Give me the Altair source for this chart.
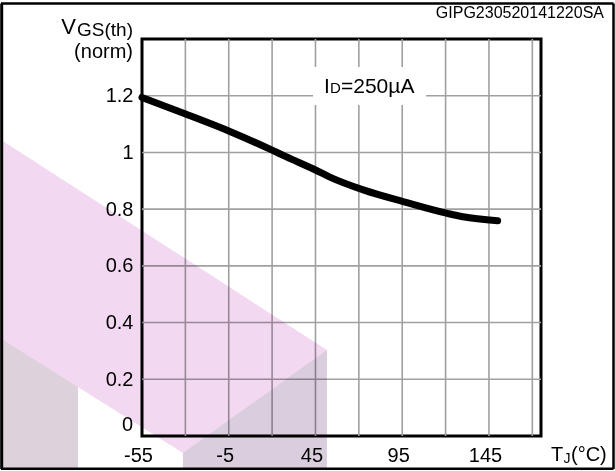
import altair as alt
import pandas as pd

# ---- data ----
temps = [-55, -31, -4, 20, 28, 45, 53, 73, 96, 121, 130, 150]
vth_norm = [1.194, 1.138, 1.073, 1.008, 0.985, 0.938, 0.914, 0.867, 0.826, 0.785, 0.773, 0.759]

x_label_values = [-55, -5, 45, 95, 145]
x_grid_values = [-30, -5, 20, 45, 70, 95, 120, 145, 170]
y_label_values = [0.2, 0.4, 0.6, 0.8, 1, 1.2]
y_zero_label = [0]
y_grid_values = [0.2, 0.4, 0.6, 0.8, 1, 1.2]

# decorative watermark (in data units)
wm_shape = ["pink", "pink", "pink", "strip", "strip", "tri", "tri"]
wm_x = [-136.9, -31.4, 51.6, -136.9, -91.9, -31.4, 51.6]
wm_top = [1.047, 0.631, 0.303, 0.346, 0.173, -0.060, 0.303]
wm_bottom = [0.346, -0.060, 0.303, -0.117, -0.117, -0.117, -0.117]
wm_color = ["#f2d8f0", "#f2d8f0", "#f2d8f0", "#ddd2dc", "#ddd2dc", "#dacdde", "#dacdde"]

FONT = "Liberation Sans"

xs = alt.Scale(domain=[-55, 175], nice=False, zero=False)
ys = alt.Scale(domain=[0, 1.4], nice=False, zero=False)

x_axis = alt.Axis(
    values=x_label_values, grid=False, domain=False, ticks=False, tickSize=0,
    labelFont=FONT, labelFontSize=20, labelColor="black", labelPadding=9,
    labelOffset=-4, title=None, labelFlush=False,
    labelExpr="'' + datum.value")
y_axis = alt.Axis(
    values=y_label_values, grid=False, domain=False, ticks=False, tickSize=0,
    labelFont=FONT, labelFontSize=20, labelColor="black", labelPadding=9,
    format="~g", title=None, labelFlush=False)

curve_df = pd.DataFrame({"T": temps, "V": vth_norm})
xgrid_df = pd.DataFrame({"x": x_grid_values})
ygrid_df = pd.DataFrame({"y": y_grid_values})
zero_df = pd.DataFrame({"y": y_zero_label})
wm_df = pd.DataFrame({"shape": wm_shape, "x": wm_x, "top": wm_top, "bottom": wm_bottom, "c": wm_color})
one = pd.DataFrame({"a": [0]})

GRID = "#a0a0a0"

xgrid = alt.Chart(xgrid_df).mark_rule(color=GRID, strokeWidth=1.6).encode(
    x=alt.X("x:Q", scale=xs, axis=x_axis)
)
ygrid = alt.Chart(ygrid_df).mark_rule(color=GRID, strokeWidth=1.6).encode(
    y=alt.Y("y:Q", scale=ys, axis=y_axis)
)

zero_label = alt.Chart(zero_df).mark_text(
    font=FONT, fontSize=20, color="black", align="right", baseline="bottom", dy=-1
).encode(
    x=alt.value(-9),
    y=alt.Y("y:Q", scale=ys, axis=y_axis),
    text=alt.Text("y:Q", format="~g"),
)

white_box = alt.Chart(one).mark_rect(color="white").encode(
    x=alt.value(171), x2=alt.value(284), y=alt.value(28), y2=alt.value(66)
)

curve = alt.Chart(curve_df).mark_line(
    color="black", strokeWidth=7, interpolate="monotone", strokeCap="round"
).encode(
    x=alt.X("T:Q", scale=xs, axis=x_axis),
    y=alt.Y("V:Q", scale=ys, axis=y_axis),
)

def txt(text, x, y, size, align="left", baseline="alphabetic"):
    return alt.Chart(one).mark_text(
        text=text, font=FONT, fontSize=size, color="black", align=align, baseline=baseline
    ).encode(x=alt.value(x), y=alt.value(y))

texts = [
    txt("GIPG230520141220SA", 462, -21, 16, align="right"),
    txt("GS(th)", -9, -3, 19, align="right"),
    txt("V", -66, -5, 22, align="right"),
    txt("(norm)", -9, 19, 20, align="right"),
    txt("I", 182, 54, 21),
    txt("D", 188, 54, 15),
    txt("=250µA", 199, 54, 21),
    txt("T", 409, 422, 20),
    txt("J", 421.5, 424, 14),
    txt("(°C)", 429, 422, 20),
]

wm = alt.Chart(wm_df).mark_area(blend="multiply", interpolate="linear").encode(
    x=alt.X("x:Q", scale=xs, axis=x_axis),
    y=alt.Y("top:Q", scale=ys, axis=y_axis),
    y2="bottom:Q",
    detail="shape:N",
    color=alt.Color("c:N", scale=None),
)

frame_top = alt.Chart(one).mark_rule(color="black", strokeWidth=2.5).encode(
    x=alt.value(-141), x2=alt.value(471.5), y=alt.value(-35.5))
frame_bottom = alt.Chart(one).mark_rule(color="black", strokeWidth=2.5).encode(
    x=alt.value(-141), x2=alt.value(471.5), y=alt.value(429.8))
frame_left = alt.Chart(one).mark_rule(color="black", strokeWidth=3).encode(
    x=alt.value(-140.3), y=alt.value(-35.5), y2=alt.value(430))
frame_right = alt.Chart(one).mark_rule(color="black", strokeWidth=2.5).encode(
    x=alt.value(471.5), y=alt.value(-35.5), y2=alt.value(430))

chart = alt.layer(
    xgrid, ygrid, zero_label, white_box, curve, *texts, wm,
    frame_top, frame_bottom, frame_left, frame_right
).properties(
    width=399, height=397,
    autosize=alt.AutoSizeParams(type="none"),
    padding={"left": 142, "top": 39, "right": 74, "bottom": 35},
    background="white",
).configure_view(stroke="black", strokeWidth=3)

chart.save("out.html", embed_options={"renderer": "svg", "actions": False})
